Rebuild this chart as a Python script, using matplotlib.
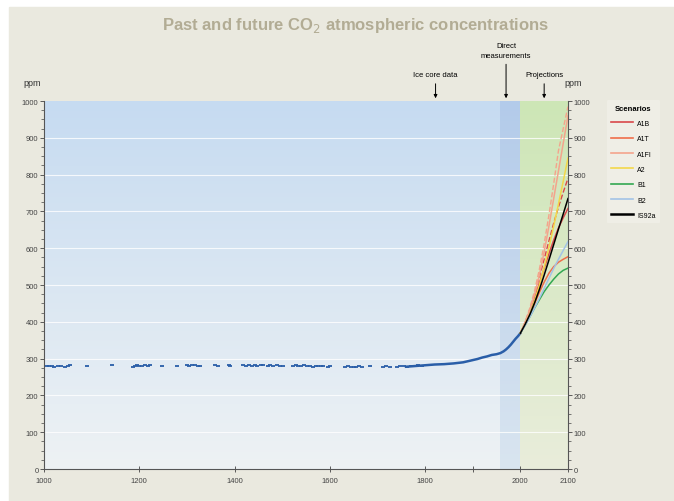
import matplotlib.pyplot as plt
import numpy as np
from matplotlib.lines import Line2D

plt.rcParams['font.family'] = ['Liberation Sans', 'DejaVu Sans']

# ice core data (year, ppm)
ice_years = [1006, 1010, 1016, 1020, 1030, 1036, 1044, 1050, 1055, 1090, 1143, 1187, 1192,
             1196, 1200, 1206, 1212, 1218, 1222, 1248, 1279, 1300, 1305, 1310, 1318, 1324,
             1328, 1359, 1365, 1388, 1391, 1418, 1424, 1430, 1436, 1442, 1448, 1455, 1460,
             1470, 1474, 1480, 1490, 1496, 1502, 1523, 1528, 1534, 1540, 1546, 1552, 1558,
             1564, 1570, 1576, 1582, 1586, 1596, 1601, 1632, 1638, 1645, 1650, 1656, 1662,
             1668, 1685, 1712, 1718, 1727, 1741, 1748, 1756, 1763, 1771, 1779, 1786, 1794]
ice_ppm = [279, 281, 280, 278, 281, 280, 277, 280, 282, 281, 282, 277, 280,
           282, 281, 279, 282, 280, 283, 280, 281, 282, 280, 283, 282, 281,
           280, 282, 281, 282, 280, 282, 281, 283, 280, 282, 281, 283, 282,
           280, 282, 281, 282, 280, 281, 280, 282, 281, 279, 282, 280, 281,
           278, 280, 279, 281, 280, 278, 280, 277, 279, 276, 278, 277, 279,
           278, 279, 277, 279, 278, 277, 279, 280, 278, 281, 279, 282, 280]

# dense ice core / firn record, then direct measurements
rec_years = [1760, 1780, 1800, 1820, 1840, 1860, 1880, 1900, 1910, 1920, 1930,
             1940, 1950, 1958, 1965, 1970, 1975, 1980, 1985, 1990, 1995, 2000]
rec_ppm = [278, 280, 282, 284, 285, 287, 290, 296, 299, 303, 306,
           310, 312, 315, 320, 325, 331, 338, 346, 354, 361, 369]

# projections 2000-2100
proj_years = [2000, 2010, 2020, 2030, 2040, 2050, 2060, 2070, 2080, 2090, 2100]
scenarios = ['A1B', 'A1T', 'A1FI', 'A2', 'B1', 'B2', 'IS92a']
colors = ['#d9484a', '#ef6e4a', '#f4a48c', '#f3d84a', '#33a852', '#a3c3e6', '#000000']
proj = {
    'A1FI': [369, 398, 432, 475, 527, 590, 660, 735, 810, 885, 960],
    'A2': [369, 393, 422, 458, 500, 548, 602, 660, 720, 782, 845],
    'IS92a': [369, 393, 420, 452, 488, 527, 568, 610, 652, 693, 735],
    'A1B': [369, 396, 428, 465, 505, 545, 585, 622, 655, 683, 708],
    'B2': [369, 390, 413, 438, 464, 491, 518, 545, 570, 594, 618],
    'A1T': [369, 393, 420, 450, 480, 508, 532, 550, 562, 570, 577],
    'B1': [369, 391, 414, 438, 460, 482, 500, 516, 530, 540, 546],
}
# upper model range (dashed)
proj_hi = {
    'A1FI': [369, 400, 438, 485, 543, 612, 690, 775, 865, 925, 985],
    'A1B': [369, 398, 434, 476, 522, 570, 620, 668, 712, 752, 790],
}

fig = plt.figure(figsize=(6.74, 5.02), dpi=100)
fig.patch.set_facecolor('white')
bg = plt.Rectangle((0.013, 0.0), 0.99, 0.985, transform=fig.transFigure,
                   color='#eae9df', zorder=-10)
fig.patches.append(bg)

ax = fig.add_axes([0.0653, 0.0637, 0.7774, 0.733])

# shaded periods with vertical gradient
grad = np.linspace(1, 0, 256).reshape(-1, 1)

def band(x0, x1, top, bottom):
    top = np.array(plt.matplotlib.colors.to_rgb(top))
    bottom = np.array(plt.matplotlib.colors.to_rgb(bottom))
    img = grad[..., None] * top + (1 - grad[..., None]) * bottom
    ax.imshow(img, extent=[x0, x1, 0, 1000], aspect='auto', zorder=0)

band(1000, 1958, '#c6dbf1', '#eef2f4')
band(1958, 2000, '#b3cbea', '#d9e5f0')
band(2000, 2100, '#cde6b6', '#e9eddb')
ax.set_xlim(1000, 2100)
ax.set_ylim(0, 1000)

for y in range(100, 1000, 100):
    ax.axhline(y, color='white', lw=0.8, alpha=0.8, zorder=1)

ax.plot(ice_years, ice_ppm, ls='none', marker='_', ms=3.2, mew=1.3, color='#2a5ea8', zorder=3)
ax.plot(rec_years, rec_ppm, color='#2a5ea8', lw=1.8, zorder=3)

for name, c in zip(scenarios, colors):
    ax.plot(proj_years, proj[name], color=c, lw=1.1, zorder=4)
    if name in proj_hi:
        ax.plot(proj_years, proj_hi[name], color=c, lw=1.0, ls='--', zorder=4)

# axes styling
ax.spines['top'].set_visible(False)
for s in ['left', 'right', 'bottom']:
    ax.spines[s].set_color('#555555')
    ax.spines[s].set_linewidth(0.8)
ax.set_xticks([1000, 1200, 1400, 1600, 1800, 1900, 2000, 2100])
ax.set_xticklabels(['1000', '1200', '1400', '1600', '1800', '', '2000', '2100'])
ax.set_yticks(range(0, 1001, 100))
ax.set_yticks(range(0, 1001, 25), minor=True)
ax.tick_params(axis='both', labelsize=5.5, colors='#444444', length=3, width=0.6,
               left=True, right=True, labelleft=True, labelright=True)
ax.tick_params(axis='x', direction='inout', length=5, pad=3)
ax.tick_params(axis='y', which='minor', length=2, width=0.5, left=True, right=True,
               colors='#444444')
ax.tick_params(axis='y', pad=1)

fig.text(0.034, 0.828, 'ppm', fontsize=6.5, color='#333333')
fig.text(0.838, 0.828, 'ppm', fontsize=6.5, color='#333333')

fig.text(0.527, 0.95, 'Past and future CO$_2$ atmospheric concentrations',
         ha='center', va='center', fontsize=12, fontweight='bold', color='#b2ac94')

# period annotations
arrow = dict(arrowstyle='-|>', color='black', lw=0.7, mutation_scale=5)
ax.annotate('Ice core data', xy=(1822, 1000), xytext=(1822, 1062),
            textcoords='data', ha='center', va='bottom', fontsize=5.5,
            arrowprops=arrow, annotation_clip=False)
ax.annotate('Direct\nmeasurements', xy=(1970, 1000), xytext=(1970, 1115),
            textcoords='data', ha='center', va='bottom', fontsize=5.5,
            arrowprops=arrow, annotation_clip=False, linespacing=1.6)
ax.annotate('Projections', xy=(2050, 1000), xytext=(2050, 1062),
            textcoords='data', ha='center', va='bottom', fontsize=5.5,
            arrowprops=arrow, annotation_clip=False)

handles = [Line2D([], [], color=c, lw=1.2 if n != 'IS92a' else 1.8) for n, c in zip(scenarios, colors)]
leg = fig.legend(handles, scenarios, loc='upper left', bbox_to_anchor=(0.895, 0.805),
                 title='Scenarios', fontsize=5, title_fontsize=5.5, frameon=True,
                 handlelength=3.2, labelspacing=1.2, borderpad=0.6, handletextpad=0.6)
leg.get_title().set_fontweight('bold')
leg.get_frame().set_facecolor('#f1f0e8')
leg.get_frame().set_edgecolor('none')

fig.savefig('out.png', dpi=100)
